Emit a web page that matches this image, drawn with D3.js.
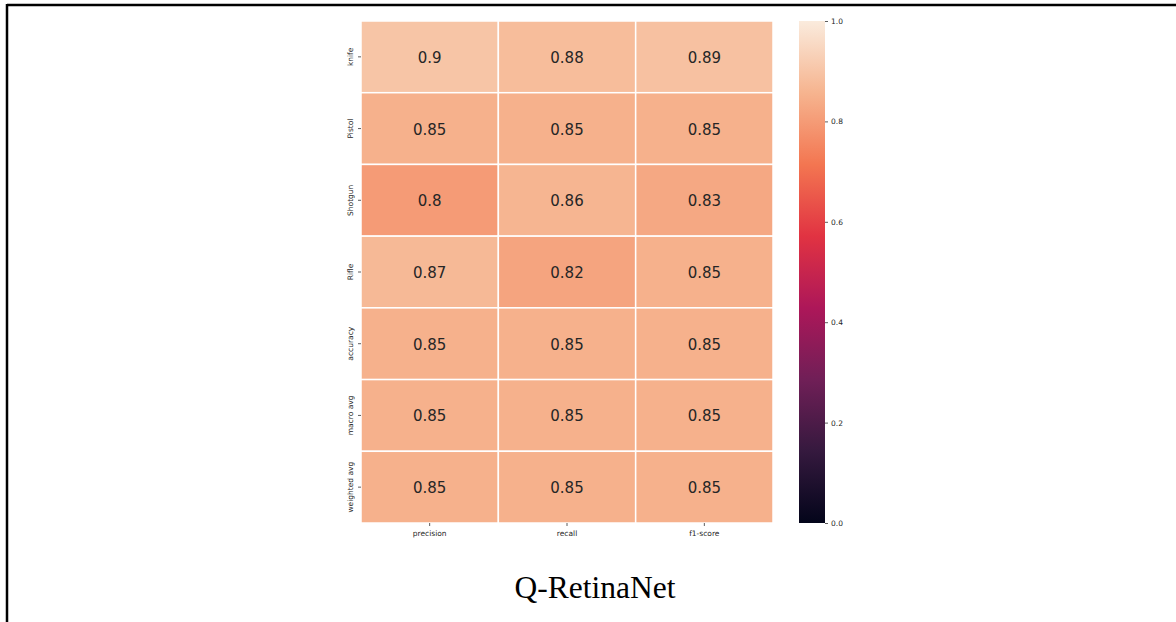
<!DOCTYPE html>
<html>
<head>
<meta charset="utf-8">
<script src="https://cdn.jsdelivr.net/npm/d3@7"></script>
<style>
  html, body { margin: 0; padding: 0; background: #fff; }
  svg { display: block; }
</style>
</head>
<body>
<svg id="chart" width="1176" height="622"></svg>
<script>
const rows = ["knife", "Pistol", "Shotgun", "Rifle", "accuracy", "macro avg", "weighted avg"];
const cols = ["precision", "recall", "f1-score"];
const precision = [0.90, 0.85, 0.80, 0.87, 0.85, 0.85, 0.85];
const recall    = [0.88, 0.85, 0.86, 0.82, 0.85, 0.85, 0.85];
const f1score   = [0.89, 0.85, 0.83, 0.85, 0.85, 0.85, 0.85];
const colorTicks = [0.0, 0.2, 0.4, 0.6, 0.8, 1.0];
const chartTitle = "Q-RetinaNet";

// seaborn "rocket" colormap stops
const rocketStops = [0, 1/7, 2/7, 3/7, 4/7, 5/7, 6/7, 1];
const rocketColors = ["#03051a", "#35193e", "#701f57", "#ad1759", "#e13342", "#f37651", "#f6b48f", "#faebdd"];

const seriesByCol = [precision, recall, f1score];
const cells = [];
rows.forEach((r, i) => cols.forEach((c, j) => cells.push({row: r, col: c, value: seriesByCol[j][i]})));

const svg = d3.select("#chart");

// frame lines (top and left)
svg.append("line").attr("x1", 7).attr("x2", 1176).attr("y1", 5).attr("y2", 5)
  .attr("stroke", "#000").attr("stroke-width", 2.5);
svg.append("line").attr("x1", 7).attr("x2", 7).attr("y1", 4).attr("y2", 622)
  .attr("stroke", "#000").attr("stroke-width", 2.5);

const pLeft = 361, pRight = 773, pTop = 21, pBottom = 523;
const x = d3.scaleBand().domain(cols).range([pLeft, pRight]);
const y = d3.scaleBand().domain(rows).range([pTop, pBottom]);
const color = d3.scaleLinear().domain(rocketStops).range(rocketColors).interpolate(d3.interpolateRgb).clamp(true);

const g = svg.append("g");
g.selectAll("rect.cell").data(cells).join("rect")
  .attr("class", "cell")
  .attr("x", d => x(d.col))
  .attr("y", d => y(d.row))
  .attr("width", x.bandwidth())
  .attr("height", y.bandwidth())
  .attr("fill", d => color(d.value))
  .attr("stroke", "#fff")
  .attr("stroke-width", 1.5);

g.selectAll("text.val").data(cells).join("text")
  .attr("class", "val")
  .attr("x", d => x(d.col) + x.bandwidth() / 2)
  .attr("y", d => y(d.row) + y.bandwidth() / 2 + 1)
  .attr("text-anchor", "middle")
  .attr("dominant-baseline", "central")
  .attr("font-family", "DejaVu Sans")
  .attr("font-size", 15)
  .attr("fill", "#262626")
  .text(d => String(+d.value.toFixed(2)));

// axes
const xAxis = svg.append("g").attr("transform", `translate(0,${pBottom})`)
  .call(d3.axisBottom(x).tickSize(3).tickPadding(3));
const yAxis = svg.append("g").attr("transform", `translate(${pLeft},0)`)
  .call(d3.axisLeft(y).tickSize(3).tickPadding(3));
[xAxis, yAxis].forEach(a => {
  a.select(".domain").remove();
  a.selectAll(".tick line").attr("stroke", "#333").attr("stroke-width", 0.8);
  a.selectAll(".tick text").attr("font-family", "DejaVu Sans").attr("font-size", 7.5).attr("fill", "#262626");
});
xAxis.selectAll(".tick text").attr("dy", "0.9em");
yAxis.selectAll(".tick text")
  .attr("x", 0)
  .attr("dy", 0)
  .attr("text-anchor", "middle")
  .attr("dominant-baseline", "auto")
  .attr("transform", "translate(-8,0) rotate(-90)");

// colorbar
const cbX = 799, cbW = 26;
const cy = d3.scaleLinear().domain([0, 1]).range([pBottom, pTop]);
const defs = svg.append("defs");
const grad = defs.append("linearGradient").attr("id", "rocket")
  .attr("x1", 0).attr("y1", 1).attr("x2", 0).attr("y2", 0);
rocketStops.forEach((s, i) => grad.append("stop").attr("offset", s).attr("stop-color", rocketColors[i]));
svg.append("rect").attr("x", cbX).attr("y", pTop).attr("width", cbW).attr("height", pBottom - pTop)
  .attr("fill", "url(#rocket)");
const cAxis = svg.append("g").attr("transform", `translate(${cbX + cbW},0)`)
  .call(d3.axisRight(cy).tickValues(colorTicks).tickFormat(d3.format(".1f")).tickSize(3).tickPadding(3));
cAxis.select(".domain").remove();
cAxis.selectAll(".tick line").attr("stroke", "#333").attr("stroke-width", 0.8);
cAxis.selectAll(".tick text").attr("font-family", "DejaVu Sans").attr("font-size", 7.5).attr("fill", "#262626");

// title
svg.append("text").attr("x", 595).attr("y", 598)
  .attr("text-anchor", "middle")
  .attr("font-family", "Liberation Serif, Times New Roman, serif")
  .attr("font-size", 31.5)
  .attr("fill", "#000")
  .text(chartTitle);
</script>
</body>
</html>
